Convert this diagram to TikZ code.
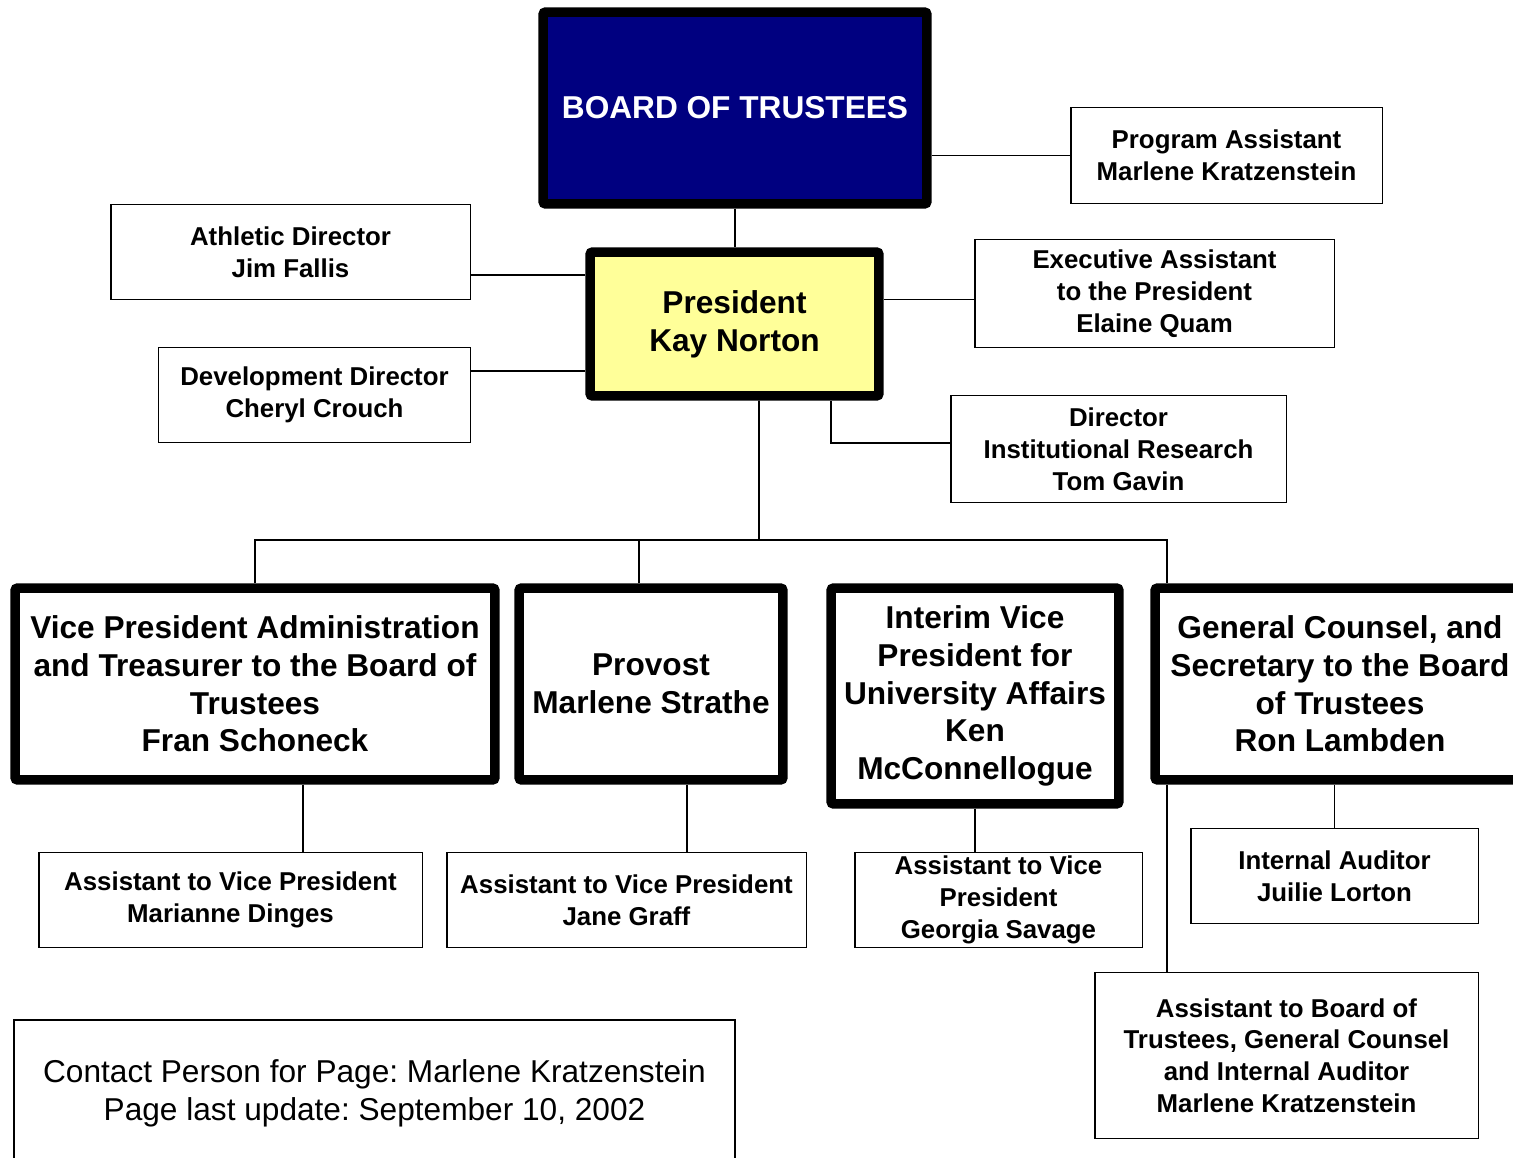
\documentclass[tikz,border=0pt]{standalone}
\usepackage{fontspec}
\setmainfont{Liberation Sans}
\usepackage{tikz}
\definecolor{boardblue}{RGB}{0,0,128}
\definecolor{presyellow}{RGB}{255,255,153}
\tikzset{
	bigbox/.style={draw, line width=0.19cm, rounded corners=1.5pt, inner sep=0pt, align=center, font=\fontsize{18pt}{21.5pt}\selectfont\bfseries},
	smallbox/.style={draw, line width=1.1pt, inner sep=0pt, align=center, font=\fontsize{14.7pt}{18.1pt}\selectfont\bfseries},
	wire/.style={line width=1.1pt},
}
\frenchspacing
\begin{document}
\begin{tikzpicture}[x=0.02cm, y=-0.02cm]
	\useasboundingbox (0,0) rectangle (1513,1158);
	\clip (0,0) rectangle (1513,1158);
	% Board and president:
	\node[bigbox, fill=boardblue, text=white, minimum width=7.68cm, minimum height=3.84cm] (board) at (735,108) {BOARD OF TRUSTEES};
	\node[bigbox, fill=presyellow, minimum width=5.78cm, minimum height=2.88cm] (pres) at (734.5,324) {President\\Kay Norton};
	% Staff boxes round the president:
	\node[smallbox, minimum width=6.24cm, minimum height=1.92cm] (progasst) at (1226.5,155.5) {Program Assistant\\Marlene Kratzenstein};
	\node[smallbox, minimum width=7.2cm, minimum height=1.9cm] (athletic) at (290.5,252) {Athletic Director\\Jim Fallis};
	\node[smallbox, minimum width=7.2cm, minimum height=2.16cm] (execasst) at (1154.5,293.5) {Executive Assistant\\to the President\\Elaine Quam};
	\node[smallbox, minimum width=6.24cm, minimum height=1.9cm] (devel) at (314.5,395) {Development Director\\Cheryl Crouch};
	\node[smallbox, minimum width=6.72cm, minimum height=2.14cm] (research) at (1118.5,449) {Director\\Institutional Research\\Tom Gavin};
	% Vice presidents:
	\node[bigbox, minimum width=9.6cm, minimum height=3.84cm] (vpadmin) at (255,684) {Vice President Administration\\and Treasurer to the Board of\\Trustees\\Fran Schoneck};
	\node[bigbox, minimum width=5.28cm, minimum height=3.84cm] (provost) at (651,684) {Provost\\Marlene Strathe};
	\node[bigbox, minimum width=5.76cm, minimum height=4.32cm] (vpua) at (975,696) {Interim Vice\\President for\\University Affairs\\Ken\\McConnellogue};
	\node[bigbox, minimum width=7.4cm, minimum height=3.84cm] (counsel) at (1340,684) {General Counsel, and\\Secretary to the Board\\of Trustees\\Ron Lambden};
	% Assistants:
	\node[smallbox, minimum width=7.68cm, minimum height=1.9cm] (asstadmin) at (230.5,900) {Assistant to Vice President\\Marianne Dinges};
	\node[smallbox, minimum width=7.2cm, minimum height=1.9cm] (asstprov) at (626.5,900) {Assistant to Vice President\\Jane Graff};
	\node[smallbox, minimum width=5.76cm, minimum height=1.9cm] (asstua) at (998.5,900) {Assistant to Vice\\President\\Georgia Savage};
	\node[smallbox, minimum width=5.76cm, minimum height=1.9cm] (auditor) at (1334.5,876) {Internal Auditor\\Juilie Lorton};
	\node[smallbox, minimum width=7.68cm, minimum height=3.32cm] (asstboard) at (1286.5,1055.5) {Assistant to Board of\\Trustees, General Counsel\\and Internal Auditor\\Marlene Kratzenstein};
	\node[draw, line width=1.1pt, inner sep=0pt, align=center, font=\fontsize{18pt}{21.5pt}\selectfont, minimum width=14.42cm, minimum height=2.92cm] (contact) at (374.5,1093) {Contact Person for Page: Marlene Kratzenstein\\Page last update: September 10, 2002};
	% Wires:
	\draw[wire] (board.south) -- (board.south |- pres.north);
	\draw[wire] (progasst.west) -- (progasst.west -| board.east);
	\draw[wire] ([yshift=-0.46cm]athletic.east) -- ([yshift=-0.46cm]athletic.east -| pres.west);
	\draw[wire] ([yshift=0.48cm]devel.east) -- ([yshift=0.48cm]devel.east -| pres.west);
	\draw[wire] ([yshift=-0.12cm]execasst.west) -- ([yshift=-0.12cm]execasst.west -| pres.east);
	\draw[wire] ([yshift=0.12cm]research.west) -| ([xshift=1.93cm]pres.south);
	\coordinate (bus) at (759,540);
	\draw[wire] ([xshift=0.49cm]pres.south) -- (bus);
	\draw[wire] (vpadmin.north) |- ([xshift=-3.46cm]counsel.north |- bus) -- ([xshift=-3.46cm]counsel.north);
	\draw[wire] ([xshift=-0.24cm]provost.north) -- ([xshift=-0.24cm]provost.north |- bus);
	\draw[wire] ([xshift=0.96cm]vpadmin.south) -- ([xshift=0.96cm]vpadmin.south |- asstadmin.north);
	\draw[wire] ([xshift=0.72cm]provost.south) -- ([xshift=0.72cm]provost.south |- asstprov.north);
	\draw[wire] (vpua.south) -- (vpua.south |- asstua.north);
	\draw[wire] (auditor.north) -- (auditor.north |- counsel.south);
	\draw[wire] ([xshift=-3.46cm]counsel.south) -- ([xshift=-3.46cm]counsel.south |- asstboard.north);
\end{tikzpicture}
\end{document}
